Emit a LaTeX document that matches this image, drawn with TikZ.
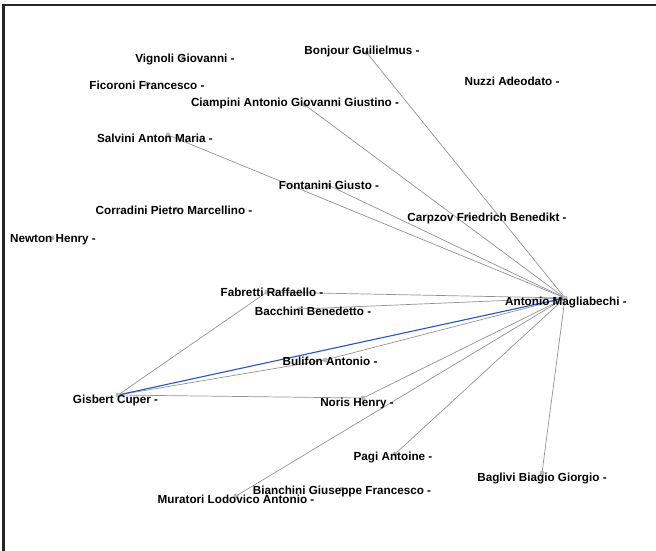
\documentclass[tikz,border=0pt]{standalone}
\usepackage{fontspec}
\setmainfont{Liberation Sans}
\usetikzlibrary{backgrounds}
\definecolor{tieblue}{RGB}{35,85,200}

\begin{document}
\begin{tikzpicture}[x=1pt,y=-1pt,
  dot/.style={circle,fill=gray!55,inner sep=0pt,minimum size=5pt},
  who/.style={font=\fontsize{11.7}{13}\selectfont\bfseries,text=black,inner sep=0pt},
  tie/.style={draw=gray!85,line width=0.7pt},
  bluetie/.style={draw=tieblue,line width=1.1pt}]
\useasboundingbox (0,0) rectangle (656,551);
\draw[line width=2.2pt,black!85] (3.5,551) -- (3.5,5.3) -- (656,5.3);
% people
\node[dot] (bon) at (367,53) {};
\node[dot] (vig) at (183,58) {};
\node[dot] (nuz) at (508,81) {};
\node[dot] (fic) at (147,84) {};
\node[dot] (cia) at (305,105) {};
\node[dot] (sal) at (168,135) {};
\node[dot] (fon) at (328,185) {};
\node[dot] (cor) at (176,209) {};
\node[dot] (car) at (468,216) {};
\node[dot] (new) at (52,238) {};
\node[dot] (fab) at (267,292) {};
\node[dot] (bac) at (300,309) {};
\node[dot] (mag) at (565,298) {};
\node[dot] (bul) at (325,360) {};
\node[dot] (cup) at (118,395) {};
\node[dot] (nor) at (363,398) {};
\node[dot] (pag) at (395,454) {};
\node[dot] (bag) at (542,473) {};
\node[dot] (bia) at (342,489) {};
\node[dot] (mur) at (236,496) {};
% names
\node[who] (bon-t) at (362,51) {Bonjour Guilielmus -};
\node[who] (vig-t) at (185,60) {Vignoli Giovanni -};
\node[who] (nuz-t) at (512,81) {Nuzzi Adeodato -};
\node[who] (fic-t) at (147,85) {Ficoroni Francesco -};
\node[who] (cia-t) at (295,103) {Ciampini Antonio Giovanni Giustino -};
\node[who] (sal-t) at (155,138) {Salvini Anton Maria -};
\node[who] (fon-t) at (329,185) {Fontanini Giusto -};
\node[who] (cor-t) at (174,210) {Corradini Pietro Marcellino -};
\node[who] (car-t) at (487,218) {Carpzov Friedrich Benedikt -};
\node[who] (new-t) at (53,240) {Newton Henry -};
\node[who] (fab-t) at (272,292) {Fabretti Raffaello -};
\node[who] (bac-t) at (313,311) {Bacchini Benedetto -};
\node[who] (mag-t) at (566,302) {Antonio Magliabechi -};
\node[who] (bul-t) at (330,361) {Bulifon Antonio -};
\node[who] (cup-t) at (115.5,400) {Gisbert Cuper -};
\node[who] (nor-t) at (357,403) {Noris Henry -};
\node[who] (pag-t) at (393,457) {Pagi Antoine -};
\node[who] (bag-t) at (542,478) {Baglivi Biagio Giorgio -};
\node[who] (bia-t) at (342,491) {Bianchini Giuseppe Francesco -};
\node[who] (mur-t) at (236,499) {Muratori Lodovico Antonio -};
% ties
\begin{pgfonlayer}{background}
\foreach \p in {bon,cia,fon,sal,fab,bac,bul,nor,mur,pag,bag}
  \draw[tie] (mag.center) -- (\p.center);
\foreach \p in {fab,bul,nor}
  \draw[tie] (cup.center) -- (\p.center);
\draw[bluetie] (cup.center) -- (mag.center);
\end{pgfonlayer}
\end{tikzpicture}
\end{document}
